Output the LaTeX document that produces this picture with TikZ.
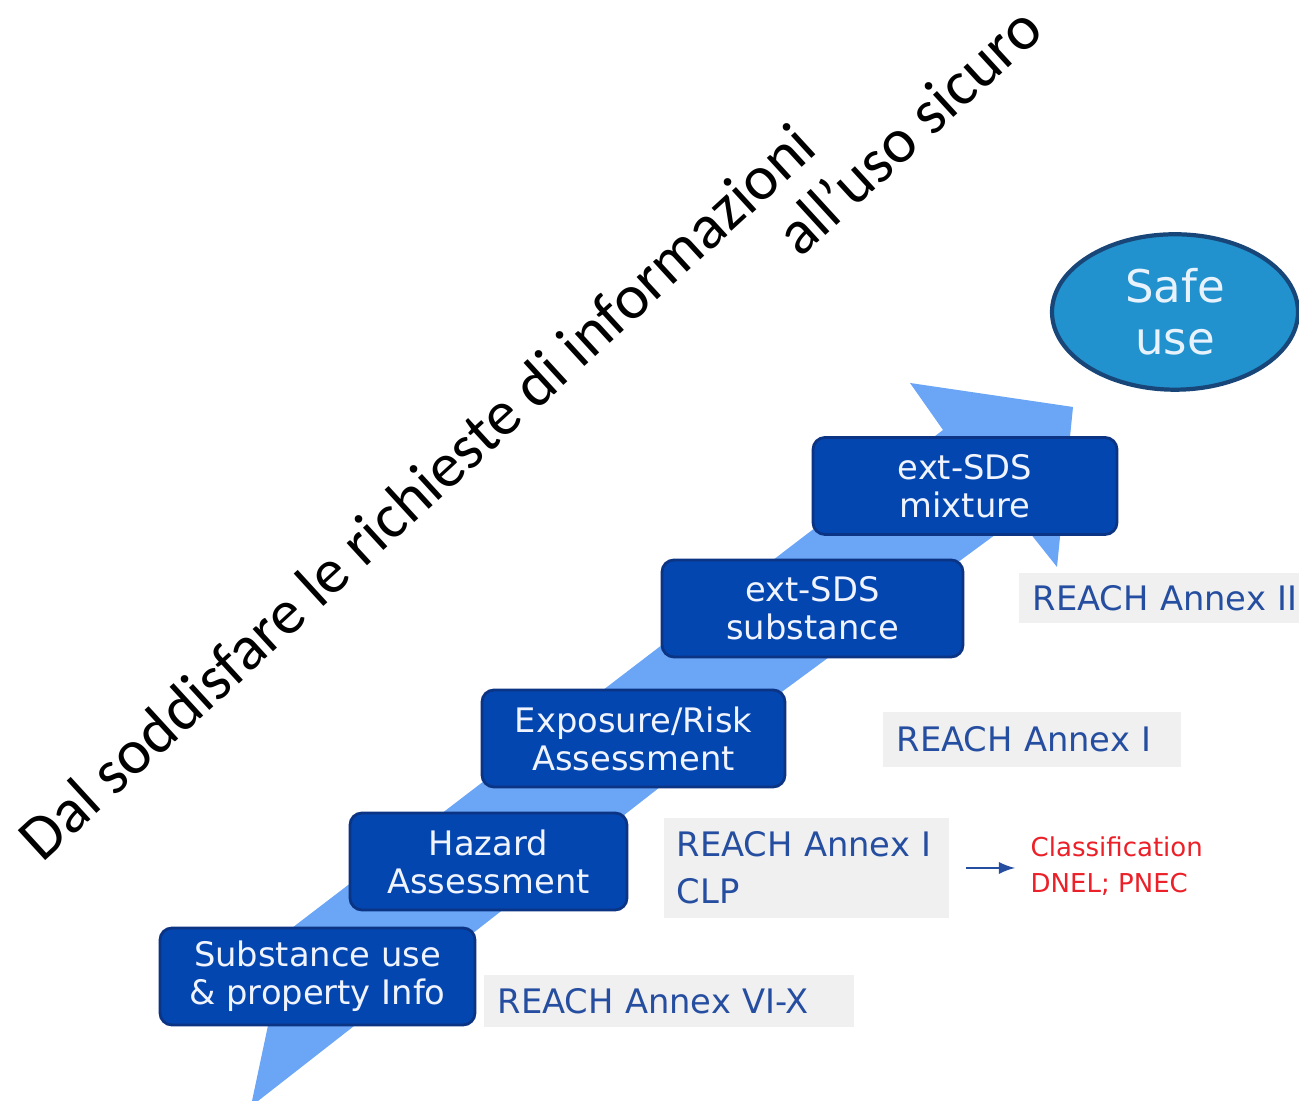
\documentclass[tikz,border=0pt]{standalone}
\usepackage{fontspec}
\setmainfont{DejaVu Sans}
\newfontfamily\calibfont{Carlito}
\usetikzlibrary{shapes.geometric,arrows}

\definecolor{bandblue}{RGB}{106,165,246}
\definecolor{boxblue}{RGB}{4,70,176}
\definecolor{boxline}{RGB}{12,52,132}
\definecolor{boxtext}{RGB}{240,244,255}
\definecolor{lblgray}{RGB}{240,240,240}
\definecolor{lbltext}{RGB}{38,78,160}
\definecolor{redtext}{RGB}{235,32,40}
\definecolor{safefill}{RGB}{33,146,205}
\definecolor{safeline}{RGB}{25,70,120}
\definecolor{safetext}{RGB}{232,242,252}

\begin{document}
\begin{tikzpicture}[
    stepbox/.style={draw=boxline, fill=boxblue, line width=0.8pt, rounded corners=0.12cm,
        text=boxtext, align=center, minimum height=0.97cm, inner sep=0pt,
        font=\fontsize{9.6}{10.8}\selectfont},
    reachlbl/.style={fill=lblgray, text=lbltext, align=left, anchor=west,
        inner xsep=0.14cm, inner ysep=0pt, font=\fontsize{9.6}{13.4}\selectfont},
    titletxt/.style={rotate=42.5, anchor=base west, inner sep=0pt,
        font=\calibfont\fontsize{18}{20}\selectfont}
]
    \useasboundingbox (0,0) rectangle (12.99,11.01);
    \clip (0,0) rectangle (12.99,11.01);

    % Arrow
    \fill[bandblue] (2.52,0) -- (2.58,0) -- (7.83,4.10) -- (10.18,5.83) -- (10.57,5.34)
        -- (10.73,6.94) -- (9.10,7.18) -- (9.43,6.71) -- (2.88,1.70) -- cycle;

    % Steps
    \node[stepbox, minimum width=3.15cm] (subst) at (3.175,1.245) {Substance use\\\& property Info};
    \node[stepbox, minimum width=2.77cm] (hazard) at (4.885,2.395) {Hazard\\Assessment};
    \node[stepbox, minimum width=3.03cm] (expo) at (6.335,3.625) {Exposure/Risk\\Assessment};
    \node[stepbox, minimum width=3.01cm] (sdssub) at (8.125,4.925) {ext-SDS\\substance};
    \node[stepbox, minimum width=3.04cm] (sdsmix) at (9.65,6.15) {ext-SDS\\mixture};

    \node[ellipse, draw=safeline, fill=safefill, line width=1.2pt, minimum width=2.46cm,
        minimum height=1.52cm, text=safetext, align=center,
        font=\fontsize{12.8}{14.7}\selectfont] (safe) at (11.75,7.89) {Safe\\use};

    % REACH labels
    \node[reachlbl, text width=3.42cm, minimum height=0.52cm] (lblsub) at (4.83,1.00) {REACH Annex VI-X};
    \node[reachlbl, text width=2.59cm, minimum height=1.00cm, inner xsep=0.13cm] (lblhaz) at (6.63,2.33) {REACH Annex I\\CLP};
    \node[reachlbl, text width=2.70cm, minimum height=0.55cm] (lblexp) at (8.82,3.615) {REACH Annex I};
    \node[reachlbl, text width=2.90cm, minimum height=0.50cm] (lblsds) at (10.18,5.03) {REACH Annex II};

    \node[anchor=west, inner sep=0pt, align=left, text=redtext,
        font=\fontsize{7.4}{10.2}\selectfont] (classif) at (10.30,2.35) {Classification\\DNEL; PNEC};
    \draw[->, >=latex, lbltext, line width=0.6pt, shorten <=0.17cm, shorten >=0.15cm]
        (lblhaz.east) -- (lblhaz.east -| classif.west);

    % Title
    \node[titletxt] (titlea) at (0.42,2.37) {Dal soddisfare le richieste di informazioni};
    \node[titletxt] (titleb) at (8.00,8.42) {all’uso sicuro};
\end{tikzpicture}
\end{document}
